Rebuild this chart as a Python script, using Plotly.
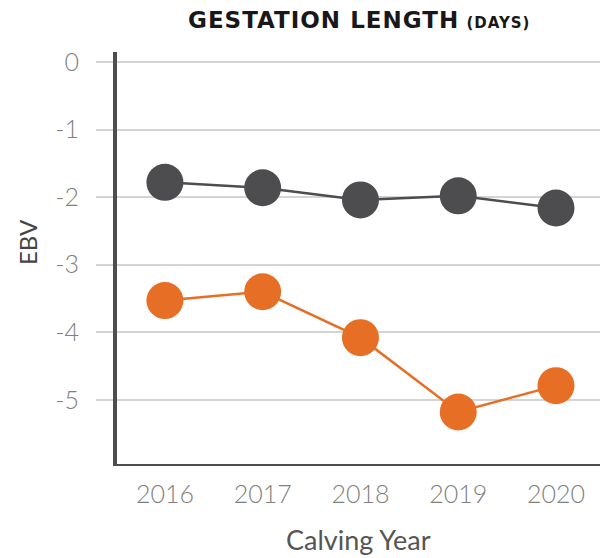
import plotly.graph_objects as go

years = ["2016", "2017", "2018", "2019", "2020"]
series_dark = [-1.78, -1.86, -2.04, -1.98, -2.16]
series_orange = [-3.53, -3.40, -4.08, -5.18, -4.79]
y_ticks = [0, -1, -2, -3, -4, -5]
y_tick_text = ["0", "-1", "-2", "-3", "-4", "-5"]

DARK = "#4d4d4f"
ORANGE = "#e66f25"

fig = go.Figure()
fig.add_trace(go.Scatter(x=years, y=series_dark, mode="lines+markers",
                         line=dict(color=DARK, width=2.5),
                         marker=dict(size=37, color=DARK), showlegend=False))
fig.add_trace(go.Scatter(x=years, y=series_orange, mode="lines+markers",
                         line=dict(color=ORANGE, width=2.5),
                         marker=dict(size=37, color=ORANGE), showlegend=False))

fig.update_layout(
    width=600, height=558,
    margin=dict(l=117, r=0, t=52, b=92),
    plot_bgcolor="white", paper_bgcolor="white",
    annotations=[
        dict(text="<b><span style='letter-spacing:1px'>GESTATION LENGTH</span></b> "
                  "<b><span style='font-size:15px;letter-spacing:1px'>(DAYS)</span></b>",
             x=359, xref="paper", y=20, yref="paper", showarrow=False,
             font=dict(family="DejaVu Sans", size=23, color="#1a1718")),
        dict(text="Calving Year", x=0.5, xref="paper", y=539, yref="paper",
             showarrow=False, font=dict(family="Lato", size=27, color="#555555")),
        dict(text="EBV", x=27, xref="paper", y=242, yref="paper", textangle=-90,
             showarrow=False, font=dict(family="Lato", size=24, color="#444444")),
    ],
    xaxis=dict(
        type="category", range=[-0.49, 4.45], automargin=False,
        showgrid=False, showline=False, zeroline=False,
        ticks="outside", ticklen=6, tickcolor="rgba(0,0,0,0)",
        tickfont=dict(family="Lato", size=25, color="#808080", weight=300),
    ),
    yaxis=dict(
        range=[-5.98, 0.15], tickvals=y_ticks, ticktext=y_tick_text, automargin=False,
        showgrid=True, gridcolor="#d4d4d4", gridwidth=1.5,
        zeroline=False,
        showline=True, linecolor=DARK, linewidth=4,
        ticks="outside", ticklen=17, tickcolor="#d4d4d4", tickwidth=1.5,
        ticklabelstandoff=12,
        tickfont=dict(family="Lato", size=25, color="#808080", weight=300),
    ),
)
# convert pixel-positioned annotations to paper coords
W, H, L, R, T, B = 600, 558, 117, 0, 52, 92
pw, ph = W - L - R, H - T - B
for a in fig.layout.annotations:
    a.x = (a.x - L) / pw if a.x > 1 else a.x
    a.y = (H - B - a.y) / ph
    a.xanchor = "center"
    a.yanchor = "middle"

fig.add_shape(type="line", xref="paper", yref="y", x0=-0.004, x1=1, y0=-5.98, y1=-5.98,
              line=dict(color=DARK, width=4))

fig.write_html("out.html", config={"displayModeBar": False},
               post_script="document.body.style.margin='0';document.body.style.overflow='hidden';")
